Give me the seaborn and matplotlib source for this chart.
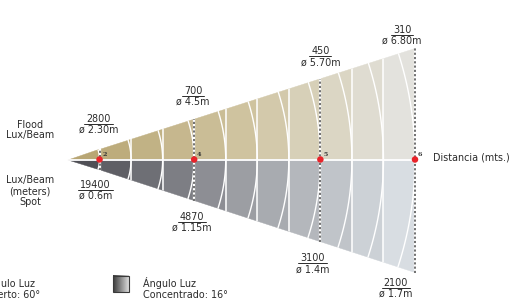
import numpy as np
import matplotlib
matplotlib.use("Agg")
import matplotlib.pyplot as plt
from matplotlib.patches import Polygon, Rectangle
import seaborn as sns

# beam is split in equal columns, distance markers sit on some column edges
n_cols = 11
marker_cols = [1, 4, 8, 11]
marker_labels = ["2", "4", "5", "6"]

flood_lux = ["2800", "700", "450", "310"]
flood_diam = ["ø 2.30m", "ø 4.5m", "ø 5.70m", "ø 6.80m"]
spot_lux = ["19400", "4870", "3100", "2100"]
spot_diam = ["ø 0.6m", "ø 1.15m", "ø 1.4m", "ø 1.7m"]

# ─── layout (pixels of the 526x300 canvas) ─────────────────────────
W, H, DPI = 526, 300, 100
APEX_X, APEX_Y = 68, 159.5
PX = 347 / n_cols            # pixels per column
FLOOD_SLOPE = 111 / 347
SPOT_SLOPE = 113 / 347

flood_dx = [-1, -1, 0, -13]    # label shift from marker
flood_dy = [20, 18, 17, 8]     # diameter line above beam edge
spot_dx = [-4, -2, -8, -19]
spot_dy = [14.5, 16, 16, 9.5]  # lux line below beam edge

TXT = "#2b2b2b"
FS = 6.9


def u(px):
    return px / PX


def to_data(px, py):
    return (px - APEX_X) / PX, (APEX_Y - py) / PX


sns.set_theme(style="white")
plt.rcParams["font.family"] = ["DejaVu Sans"]

fig = plt.figure(figsize=(W / DPI, H / DPI), dpi=DPI)
ax = fig.add_axes([0, 0, 1, 1])
ax.set_xlim(-APEX_X / PX, (W - APEX_X) / PX)
ax.set_ylim(-(H - APEX_Y) / PX, APEX_Y / PX)
ax.axis("off")

flood_pal = sns.blend_palette(["#b8a674", "#cfc39f", "#e3e2dd"], n_cols)
spot_pal = sns.blend_palette(["#505056", "#9c9ea3", "#d8dde2"], n_cols)

# ─── beam columns ─────────────────────────────────────────────────
for k in range(n_cols):
    a, b = k, k + 1
    ax.add_patch(Polygon([(a, 0), (b, 0), (b, FLOOD_SLOPE * b), (a, FLOOD_SLOPE * a)],
                         closed=True, facecolor=flood_pal[k], edgecolor=flood_pal[k],
                         lw=0.3, zorder=1))
    ax.add_patch(Polygon([(a, 0), (b, 0), (b, -SPOT_SLOPE * b), (a, -SPOT_SLOPE * a)],
                         closed=True, facecolor=spot_pal[k], edgecolor=spot_pal[k],
                         lw=0.3, zorder=1))

# white column edges and arcs
for k in range(1, n_cols + 1):
    if k not in marker_cols:
        ax.plot([k, k], [-SPOT_SLOPE * k, FLOOD_SLOPE * k], color="white", lw=1.1, zorder=2)
    t = np.linspace(0, np.arctan(FLOOD_SLOPE), 40)
    ax.plot(k * np.cos(t), k * np.sin(t), color="white", lw=1.0, zorder=2)
    t = np.linspace(0, -np.arctan(SPOT_SLOPE), 40)
    ax.plot(k * np.cos(t), k * np.sin(t), color="white", lw=1.0, zorder=2)

ax.plot([0, n_cols], [0, 0], color="white", lw=1.3, zorder=3)

# dotted distance lines
for m in marker_cols:
    ax.plot([m, m], [-SPOT_SLOPE * m, FLOOD_SLOPE * m], color="white", lw=1.6, zorder=3)
    ax.plot([m, m], [-SPOT_SLOPE * m, FLOOD_SLOPE * m], color="#4a4a4a", lw=1.1,
            linestyle=(0, (1.4, 1.4)), zorder=4)

sns.scatterplot(x=marker_cols, y=[0] * len(marker_cols), color="#e8232a", s=22,
                edgecolor="none", zorder=6, ax=ax, legend=False)
for m, lab in zip(marker_cols, marker_labels):
    ax.text(m + u(3), u(2.5), lab, fontsize=4.6, fontweight="bold", family="DejaVu Serif",
            color="#333333", ha="left", va="bottom", zorder=7)


# ─── lux / diameter labels ────────────────────────────────────────
def fraction(x, y_num, num, diam):
    # y_num = centre of the number line (data units)
    ax.text(x, y_num - u(3.5), num, fontsize=FS, color=TXT, ha="center", va="baseline")
    half = u(len(num) * 3.2 + 1.5)
    ax.plot([x - half, x + half], [y_num - u(5.5)] * 2, color=TXT, lw=0.7)
    ax.text(x, y_num - u(14.5), diam, fontsize=FS, color=TXT, ha="center", va="baseline")


for i, m in enumerate(marker_cols):
    edge = FLOOD_SLOPE * m
    fraction(m + u(flood_dx[i]), edge + u(flood_dy[i] + 11), flood_lux[i], flood_diam[i])
    edge = -SPOT_SLOPE * m
    fraction(m + u(spot_dx[i]), edge - u(spot_dy[i]), spot_lux[i], spot_diam[i])

# side captions
x, y = to_data(30, 130)
ax.text(x, y, "Flood\nLux/Beam", fontsize=FS, color=TXT, ha="center", va="center",
        linespacing=1.1)
x, y = to_data(30, 191)
ax.text(x, y, "Lux/Beam\n(meters)\nSpot", fontsize=FS, color=TXT, ha="center", va="center",
        linespacing=1.1)
x, y = to_data(433, 157)
ax.text(x, y, "Distancia (mts.)", fontsize=FS, color=TXT, ha="left", va="center")

# ─── legend ───────────────────────────────────────────────────────
grad = sns.blend_palette(["#3a3a3a", "#dcdcdc"], as_cmap=True)
for px0, text in [(-48, "Ángulo Luz\nAbierto: 60°"), (113, "Ángulo Luz\nConcentrado: 16°")]:
    x0, y1 = to_data(px0, 276)
    x1, y0 = to_data(px0 + 16, 292)
    ax.imshow(np.linspace(0, 1, 64)[None, :], extent=(x0, x1, y0, y1), cmap=grad,
              aspect="auto", zorder=5)
    ax.add_patch(Rectangle((x0, y0), x1 - x0, y1 - y0, fill=False, edgecolor="#3a3a3a",
                           lw=0.8, zorder=6))
    tx, ty = to_data(px0 + 30, 288.5)
    ax.text(tx, ty, text, fontsize=FS, color=TXT, ha="left", va="center", linespacing=1.1)

ax.set_xlim(-APEX_X / PX, (W - APEX_X) / PX)
ax.set_ylim(-(H - APEX_Y) / PX, APEX_Y / PX)

fig.savefig("out.png", dpi=DPI)
plt.close(fig)
